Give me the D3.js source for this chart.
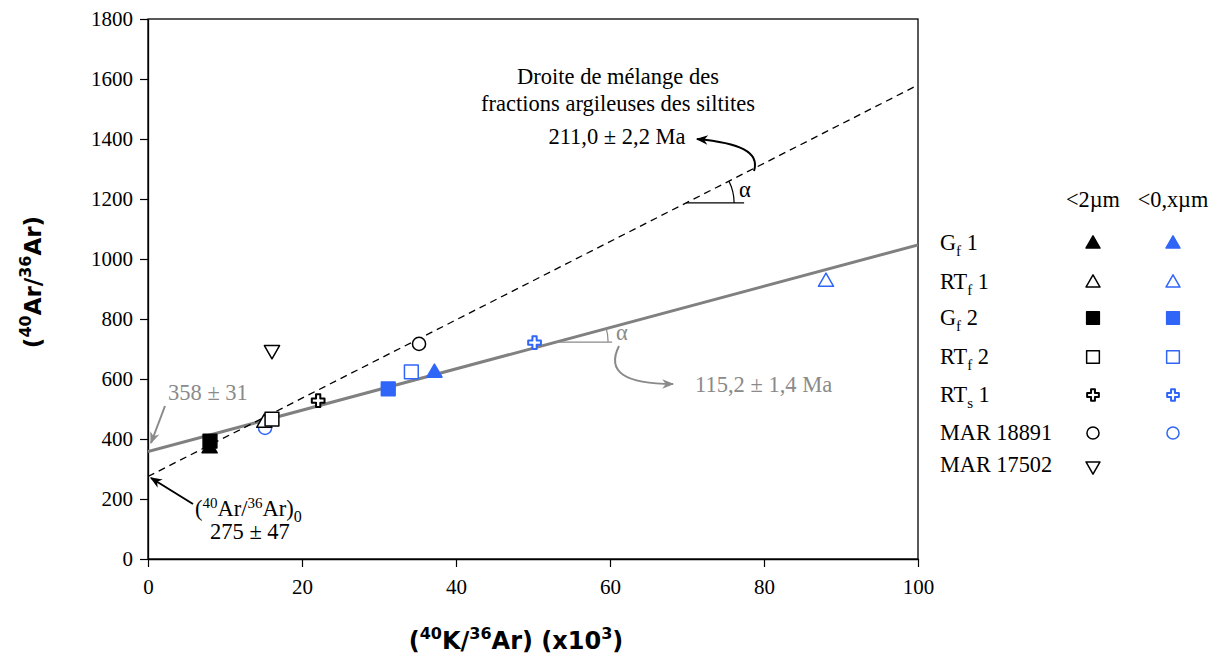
<!DOCTYPE html>
<html><head><meta charset="utf-8">
<script src="https://cdn.jsdelivr.net/npm/d3@7"></script>
<style>body{margin:0;background:#fff}svg{display:block}</style>
</head><body>
<svg id="c" width="1217" height="659"></svg>
<script>
// ---- data ----
const seriesLabels = [["G","f"," 1"],["RT","f"," 1"],["G","f"," 2"],["RT","f"," 2"],["RT","s"," 1"],["MAR 18891","",""],["MAR 17502","",""]];
const seriesShapes = ["triUp","triUp","square","square","cross","circle","triDown"];
const seriesFilled = [true,false,true,false,false,false,false];
const coarseX = [8.0, 15.1, 8.05, 16.1, 22.1, 35.2, 16.1];
const coarseY = [372, 457, 393, 466, 528, 717, 700];
const fineX = [37.2, 88.05, 31.2, 34.2, 50.2, 15.2, null];
const fineY = [624, 927, 567, 624, 721, 437, null];
const fractionHeaders = ["<2\u00b5m", "<0,x\u00b5m"];
const xTicks = [0, 20, 40, 60, 80, 100];
const yTicks = [0, 200, 400, 600, 800, 1000, 1200, 1400, 1600, 1800];
const mixLine = [275, 1580];     // dashed: y at x=0 and x=100
const isochron = [358, 1047];    // solid gray: y at x=0 and x=100

const BLUE = "#2f66f8", GRAY = "#8a8a8a", SERIF = "'Liberation Serif','Times New Roman',serif";
const svg = d3.select("#c");
const x = d3.scaleLinear().domain([0,100]).range([148,918]);
const y = d3.scaleLinear().domain([0,1800]).range([559,19]);

const defs = svg.append("defs");
function marker(id, col){
  defs.append("marker").attr("id",id).attr("viewBox","0 0 10 10").attr("refX",9).attr("refY",5)
    .attr("markerWidth",14).attr("markerHeight",12).attr("orient","auto-start-reverse")
    .attr("markerUnits","userSpaceOnUse")
    .append("path").attr("d","M0,1 L10,5 L0,9 L3,5 Z").attr("fill",col);
}
marker("ab","#000"); marker("ag",GRAY);

// frame
svg.append("rect").attr("x",148).attr("y",19).attr("width",770).attr("height",540)
  .attr("fill","none").attr("stroke","#000").attr("stroke-width",1.3);

const fmt = d3.format("d");
const xAxis = svg.append("g").attr("transform","translate(0,559)")
  .call(d3.axisBottom(x).tickValues(xTicks).tickFormat(fmt).tickSize(8).tickSizeOuter(0).tickPadding(7));
const yAxis = svg.append("g").attr("transform","translate(148,0)")
  .call(d3.axisLeft(y).tickValues(yTicks).tickFormat(fmt).tickSize(8).tickSizeOuter(0).tickPadding(7));
[xAxis,yAxis].forEach(g=>{
  g.select(".domain").attr("stroke","#000").attr("stroke-width",1.3);
  g.selectAll(".tick line").attr("stroke","#000").attr("stroke-width",1.2);
  g.selectAll("text").attr("font-family",SERIF).attr("font-size",21).attr("fill","#000");
});
xAxis.selectAll("text").attr("dy","0.95em");
yAxis.selectAll("text").attr("dy","0.33em");

// lines
defs.append("clipPath").attr("id","pc").append("rect").attr("x",148).attr("y",19).attr("width",770).attr("height",540);
const lineG = svg.append("g").attr("clip-path","url(#pc)");
lineG.append("line").attr("x1",x(0)).attr("y1",y(isochron[0])).attr("x2",x(100)).attr("y2",y(isochron[1]))
  .attr("stroke","#808080").attr("stroke-width",3);
lineG.append("line").attr("x1",x(0)).attr("y1",y(mixLine[0])).attr("x2",x(100)).attr("y2",y(mixLine[1]))
  .attr("stroke","#000").attr("stroke-width",1.3).attr("stroke-dasharray","7,5");

// symbols
function drawSym(g, shape, cx, cy, col, filled, s){
  s = s || 1;
  let sym, rot = 0, size, sw = 1.5;
  if (shape==="triUp"){sym=d3.symbolTriangle; size=100*s;}
  else if (shape==="triDown"){sym=d3.symbolTriangle; size=100*s; rot=180;}
  else if (shape==="square"){sym=d3.symbolSquare; size=190*s;}
  else if (shape==="cross"){sym=d3.symbolCross; size=90*s; sw=2;}
  else {sym=d3.symbolCircle; size=135*s;}
  g.append("path").attr("d", d3.symbol().type(sym).size(size)())
   .attr("transform",`translate(${cx},${cy}) rotate(${rot})` + (shape==="triDown"?" translate(0,-1)":(shape==="triUp"?" translate(0,1)":"")))
   .attr("fill", filled?col:"#fff").attr("stroke",col).attr("stroke-width",sw).attr("stroke-linejoin","round");
}
const ptG = svg.append("g");
fineX.forEach((fx,i)=>{ if(fx!==null) drawSym(ptG, seriesShapes[i], x(fx), y(fineY[i]), BLUE, seriesFilled[i]); });
[0,2,1,3,4,5,6].forEach(i=> drawSym(ptG, seriesShapes[i], x(coarseX[i]), y(coarseY[i]), "#000", seriesFilled[i]));

// legend
const lg = svg.append("g").attr("font-family",SERIF).attr("font-size",22.3);
const colX = [1093, 1173];
fractionHeaders.forEach((h,j)=> lg.append("text").attr("x",colX[j]).attr("y",207).attr("text-anchor","middle").text(h));
const rowY = [243, 282, 318, 357, 395, 433, 465];
seriesLabels.forEach((lab,i)=>{
  const t = lg.append("text").attr("x",940).attr("y",rowY[i]+7);
  t.append("tspan").text(lab[0]);
  if (lab[1]) t.append("tspan").attr("font-size",15).attr("dy",6).text(lab[1]);
  if (lab[2]) t.append("tspan").attr("dy",lab[1]?-6:0).text(lab[2]);
  drawSym(lg, seriesShapes[i], colX[0], rowY[i], "#000", seriesFilled[i], 0.85);
  if (fineX[i]!==null) drawSym(lg, seriesShapes[i], colX[1], rowY[i], BLUE, seriesFilled[i], 0.85);
});

// annotations
const an = svg.append("g").attr("font-family",SERIF).attr("font-size",22.5);
an.append("text").attr("x",618).attr("y",84).attr("text-anchor","middle").text("Droite de m\u00e9lange des");
an.append("text").attr("x",618).attr("y",111).attr("text-anchor","middle").text("fractions argileuses des siltites");
an.append("text").attr("x",617).attr("y",144).attr("text-anchor","middle").text("211,0 \u00b1 2,2 Ma");
an.append("path").attr("d","M754,171 C760,152 740,143 697,139").attr("fill","none").attr("stroke","#000").attr("stroke-width",2).attr("marker-end","url(#ab)");
// alpha on mixing line
const xa1 = (1187-mixLine[0])/((mixLine[1]-mixLine[0])/100);
const px1 = x(xa1), py1 = y(1187);
an.append("line").attr("x1",px1).attr("y1",py1).attr("x2",px1+58).attr("y2",py1).attr("stroke","#000").attr("stroke-width",1.3);
const ang1 = Math.atan2(y(mixLine[0])-y(mixLine[1]), x(100)-x(0));
const r1 = 48;
an.append("path").attr("d",`M${px1+r1},${py1} A${r1},${r1} 0 0 0 ${px1+r1*Math.cos(ang1)},${py1-r1*Math.sin(ang1)}`).attr("fill","none").attr("stroke","#000").attr("stroke-width",1.2);
an.append("text").attr("x",739).attr("y",197).text("\u03b1");
// alpha on isochron
const xa2 = 53;
const px2 = x(xa2), py2 = y(isochron[0] + (isochron[1]-isochron[0])*xa2/100);
an.append("line").attr("x1",px2).attr("y1",py2).attr("x2",px2+56).attr("y2",py2).attr("stroke",GRAY).attr("stroke-width",1.3);
const ang2 = Math.atan2(y(isochron[0])-y(isochron[1]), x(100)-x(0));
const r2 = 52;
an.append("path").attr("d",`M${px2+r2},${py2} A${r2},${r2} 0 0 0 ${px2+r2*Math.cos(ang2)},${py2-r2*Math.sin(ang2)}`).attr("fill","none").attr("stroke",GRAY).attr("stroke-width",1.2);
an.append("text").attr("x",616).attr("y",340).attr("fill",GRAY).text("\u03b1");
an.append("path").attr("d","M619,346 C606,372 625,384 673,384").attr("fill","none").attr("stroke",GRAY).attr("stroke-width",2).attr("marker-end","url(#ag)");
an.append("text").attr("x",695).attr("y",392).attr("fill",GRAY).text("115,2 \u00b1 1,4 Ma");
// intercepts
an.append("text").attr("x",168).attr("y",400).attr("fill",GRAY).text("358 \u00b1 31");
an.append("line").attr("x1",165).attr("y1",406).attr("x2",151).attr("y2",443).attr("stroke",GRAY).attr("stroke-width",2).attr("marker-end","url(#ag)");
const t0 = an.append("text").attr("x",195).attr("y",516);
t0.append("tspan").text("(");
t0.append("tspan").attr("font-size",15).attr("dy",-8).text("40");
t0.append("tspan").attr("dy",8).text("Ar/");
t0.append("tspan").attr("font-size",15).attr("dy",-8).text("36");
t0.append("tspan").attr("dy",8).text("Ar)");
t0.append("tspan").attr("font-size",16).attr("dy",6).text("0");
an.append("text").attr("x",210).attr("y",539).text("275 \u00b1 47");
an.append("line").attr("x1",193).attr("y1",504).attr("x2",151).attr("y2",478).attr("stroke","#000").attr("stroke-width",2).attr("marker-end","url(#ab)");

// axis titles
const LF = "'DejaVu Sans',sans-serif";
const xl = svg.append("text").attr("x",516).attr("y",649).attr("text-anchor","middle").attr("font-family",LF).attr("font-weight","bold").attr("font-size",24);
xl.append("tspan").text("(");
xl.append("tspan").attr("font-size",16).attr("dy",-10).text("40");
xl.append("tspan").attr("dy",10).text("K/");
xl.append("tspan").attr("font-size",16).attr("dy",-10).text("36");
xl.append("tspan").attr("dy",10).text("Ar) (x10");
xl.append("tspan").attr("font-size",16).attr("dy",-10).text("3");
xl.append("tspan").attr("dy",10).text(")");
const yl = svg.append("text").attr("transform","translate(41,282) rotate(-90)").attr("text-anchor","middle").attr("font-family",LF).attr("font-weight","bold").attr("font-size",23);
yl.append("tspan").text("(");
yl.append("tspan").attr("font-size",16).attr("dy",-10).text("40");
yl.append("tspan").attr("dy",10).text("Ar/");
yl.append("tspan").attr("font-size",16).attr("dy",-10).text("36");
yl.append("tspan").attr("dy",10).text("Ar)");
</script>
</body></html>
